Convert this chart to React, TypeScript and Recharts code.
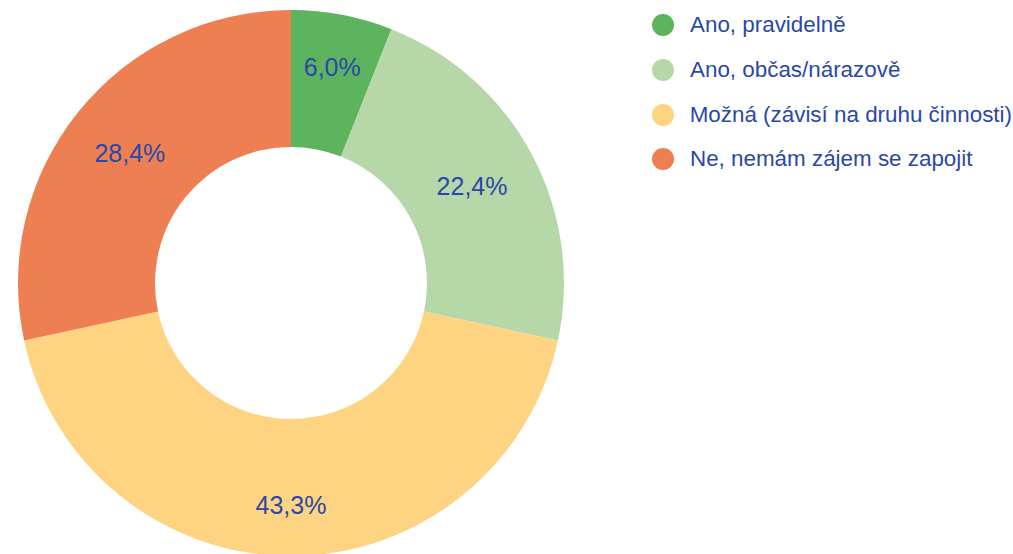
import React from 'react';
import { PieChart, Pie, Cell, Legend } from 'recharts';

const categories = [
  'Ano, pravidelně',
  'Ano, občas/nárazově',
  'Možná (závisí na druhu činnosti)',
  'Ne, nemám zájem se zapojit',
];
const shares = [6.0, 22.4, 43.3, 28.4];
const colors = ['#5db35e', '#b6d7a8', '#fed482', '#ed7f53'];

const data = categories.map((name, i) => ({ name, value: shares[i] }));

const FONT = '"Liberation Sans", Arial, sans-serif';
const TEXT_BLUE = '#2a48a8';
const RAD = Math.PI / 180;

// labels sit on the ring middle, pushed outward on near-vertical slices
const renderLabel = (props: any) => {
  const { cx, cy, midAngle, innerRadius, outerRadius, value } = props;
  const c = Math.sin(midAngle * RAD);
  const r = (innerRadius + outerRadius) / 2 + 17 * Math.pow(c, 4);
  const x = cx + r * Math.cos(-midAngle * RAD);
  const y = cy + r * Math.sin(-midAngle * RAD);
  return (
    <text
      x={x}
      y={y}
      fill={TEXT_BLUE}
      textAnchor="middle"
      dominantBaseline="central"
      fontFamily={FONT}
      fontSize={25}
    >
      {value.toFixed(1).replace('.', ',') + '%'}
    </text>
  );
};

const LegendList = () => (
  <div style={{ fontFamily: FONT, fontSize: 22.4, color: TEXT_BLUE }}>
    {categories.map((name, i) => (
      <div key={name} style={{ display: 'flex', alignItems: 'center', height: 44.7, whiteSpace: 'nowrap' }}>
        <span
          style={{
            display: 'inline-block',
            width: 22,
            height: 22,
            borderRadius: '50%',
            background: colors[i],
            marginRight: 16,
          }}
        />
        {name}
      </div>
    ))}
  </div>
);

export default function App() {
  return (
    <div style={{ position: 'absolute', left: 0, top: 0, width: 1013, height: 554, background: '#fff', overflow: 'hidden' }}>
      <PieChart width={1013} height={554} margin={{ top: 0, right: 0, bottom: 0, left: 0 }}>
        <Pie
          data={data}
          dataKey="value"
          nameKey="name"
          cx={291}
          cy={283}
          innerRadius={136}
          outerRadius={273}
          startAngle={90}
          endAngle={-270}
          stroke="none"
          label={renderLabel}
          labelLine={false}
          isAnimationActive={false}
        >
          {data.map((d, i) => (
            <Cell key={d.name} fill={colors[i]} />
          ))}
        </Pie>
        <Legend
          content={() => <LegendList />}
          wrapperStyle={{ left: 652, top: 3, width: 360 }}
        />
      </PieChart>
    </div>
  );
}
